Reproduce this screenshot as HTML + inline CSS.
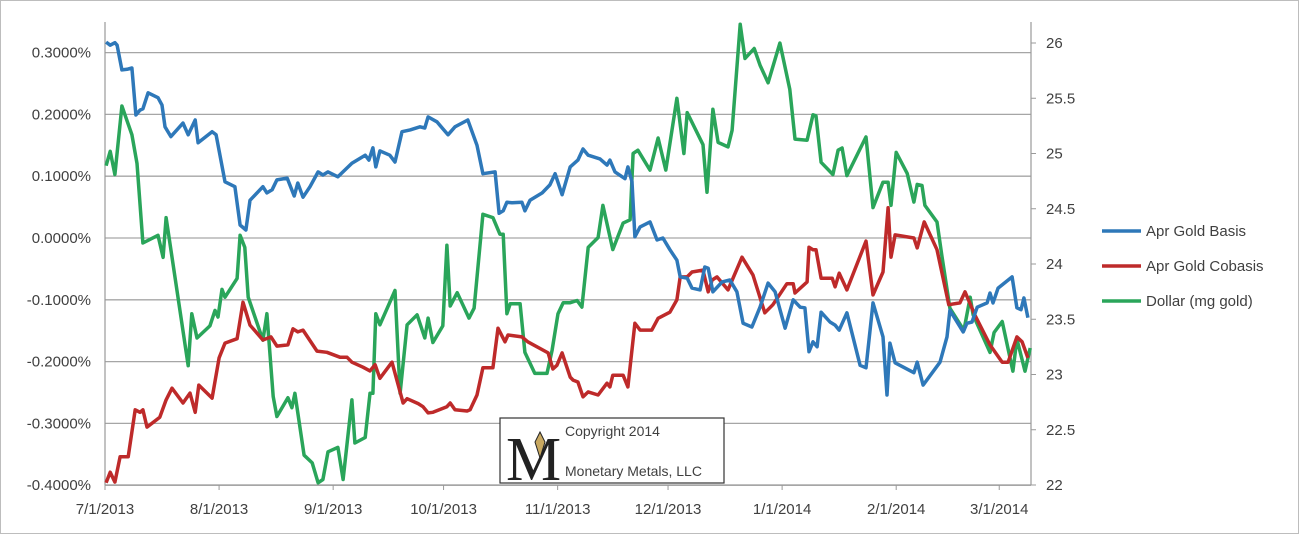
<!DOCTYPE html>
<html><head><meta charset="utf-8"><style>
html,body{margin:0;padding:0;background:#fff;}
svg{display:block;font-family:"Liberation Sans",sans-serif;}
</style></head><body>
<svg id="chart" width="1300" height="535" viewBox="0 0 1300 535">
<rect x="0.5" y="0.5" width="1298" height="533" fill="#fff" stroke="#bdbdbd"/>
<g id="grid"></g>
<g id="axes"></g>
<g id="series"></g>
<g>
<rect x="500" y="418" width="224" height="65" fill="#fff" stroke="#333" stroke-width="1.2"/>
<text x="506" y="480" font-family="Liberation Serif,serif" font-size="62" fill="#222">M</text>
<path d="M540 432 l5 10 l-5 16 l-5 -16 z" fill="#c8a860" stroke="#222" stroke-width="1"/>
<text x="565" y="436" font-size="14" fill="#404040">Copyright 2014</text>
<text x="565" y="476" font-size="14" fill="#404040">Monetary Metals, LLC</text>
</g>
<g id="legend"></g>
</svg>
<script>
const basisDays=[0.3,1.4,2.7,3.3,4.6,6.0,7.3,8.4,9.5,10.3,11.7,14.4,15.5,16.3,17.9,21.2,22.6,24.5,25.3,29.1,30.2,32.6,35.3,36.7,38.3,39.4,41.3,42.9,44.0,45.4,46.7,49.5,51.4,52.4,53.8,55.7,57.9,59.2,60.6,63.3,67.1,70.7,71.7,72.8,73.6,74.7,77.4,78.8,80.7,82.9,85.6,86.9,87.8,90.2,93.2,95.1,98.6,101.1,102.7,106.0,107.1,108.2,109.2,110.6,113.3,114.1,115.5,118.8,120.9,122.3,124.2,126.4,128.5,129.9,131.3,134.5,136.4,137.2,138.6,141.3,142.1,143.2,144.0,145.4,148.1,150.0,151.6,153.5,155.4,156.3,158.2,159.5,161.7,163.0,163.9,165.2,167.7,169.8,171.7,173.4,175.8,178.0,180.2,182.1,184.8,187.0,188.9,190.2,191.3,192.4,193.5,194.6,197.0,198.4,199.5,201.6,205.2,206.8,208.7,211.4,212.5,213.3,214.7,219.8,220.7,222.3,226.9,228.8,229.6,233.2,234.2,235.6,237.0,239.7,240.5,241.3,242.7,246.5,247.8,248.9,249.7,250.8];
const basisValues=[.317,.312,.316,.312,.272,.273,.275,.199,.207,.209,.235,.227,.215,.180,.164,.186,.167,.191,.154,.172,.167,.091,.083,.021,.013,.061,.073,.083,.073,.078,.094,.097,.068,.089,.066,.083,.107,.102,.107,.099,.121,.134,.126,.146,.115,.141,.134,.123,.172,.175,.180,.178,.196,.188,.167,.180,.191,.150,.104,.107,.040,.044,.058,.057,.058,.044,.061,.073,.086,.104,.070,.115,.126,.144,.134,.128,.118,.126,.107,.096,.115,.091,.002,.018,.026,-.003,.000,-.019,-.036,-.063,-.065,-.081,-.084,-.047,-.049,-.087,-.071,-.068,-.087,-.138,-.144,-.112,-.073,-.087,-.146,-.100,-.112,-.113,-.184,-.168,-.176,-.120,-.136,-.141,-.149,-.121,-.206,-.210,-.105,-.160,-.254,-.170,-.202,-.218,-.201,-.238,-.201,-.160,-.117,-.152,-.138,-.136,-.112,-.105,-.089,-.105,-.081,-.063,-.113,-.116,-.097,-.129];
const cobasisDays=[0.3,1.4,2.7,4.1,6.3,8.2,9.5,10.3,11.4,14.9,16.6,18.2,21.2,23.1,24.5,25.5,29.1,31.0,32.6,35.9,37.5,39.4,42.9,45.1,46.7,49.7,51.1,52.4,53.8,57.6,60.3,63.9,65.8,67.1,70.1,72.0,73.4,74.7,78.0,81.0,82.1,85.1,86.4,87.8,89.1,92.9,93.8,95.1,98.4,99.2,101.1,102.7,105.4,106.8,108.7,109.5,113.3,114.9,120.4,121.7,122.8,124.2,126.4,127.2,128.5,129.9,131.3,134.0,136.4,137.2,138.0,140.8,142.1,144.0,145.4,148.6,150.3,153.5,155.4,156.3,158.2,159.5,162.5,163.9,165.0,166.3,169.3,173.1,176.1,179.3,181.5,185.3,187.0,187.5,190.8,191.3,192.4,193.2,194.6,197.6,198.4,199.5,201.6,206.8,208.7,211.4,212.8,213.6,214.7,219.8,220.7,222.6,226.1,229.3,232.3,233.7,236.4,240.5,243.8,245.4,247.8,249.2,250.8];
const cobasisValues=[-.396,-.379,-.395,-.354,-.354,-.278,-.282,-.278,-.306,-.290,-.262,-.243,-.267,-.251,-.282,-.238,-.259,-.194,-.170,-.163,-.104,-.141,-.165,-.160,-.175,-.173,-.147,-.152,-.149,-.183,-.185,-.193,-.193,-.201,-.209,-.215,-.205,-.227,-.201,-.267,-.260,-.268,-.273,-.283,-.282,-.273,-.267,-.278,-.280,-.278,-.254,-.210,-.210,-.146,-.168,-.157,-.160,-.168,-.186,-.212,-.206,-.186,-.225,-.230,-.233,-.257,-.249,-.254,-.235,-.241,-.222,-.222,-.241,-.138,-.149,-.149,-.130,-.120,-.100,-.063,-.063,-.055,-.052,-.087,-.068,-.063,-.084,-.031,-.060,-.121,-.108,-.074,-.074,-.089,-.071,-.015,-.019,-.019,-.065,-.065,-.079,-.057,-.084,-.005,-.092,-.055,.049,-.031,.005,.000,-.016,.026,-.019,-.108,-.105,-.087,-.125,-.173,-.201,-.201,-.160,-.168,-.194];
const dollarDays=[0.3,1.4,2.7,4.6,7.3,8.7,10.3,14.4,15.8,16.6,22.6,23.6,25.0,28.5,29.9,30.7,31.8,32.6,35.9,36.7,38.0,38.9,42.9,44.0,45.7,46.7,49.7,50.8,51.6,54.1,56.3,57.9,59.2,60.6,63.3,64.7,67.1,67.9,70.7,72.0,72.8,73.6,74.7,78.8,80.2,82.1,84.8,86.9,87.8,89.1,91.8,92.9,93.8,95.7,98.9,100.3,102.7,105.4,107.3,108.2,109.2,110.1,112.8,114.1,116.8,120.1,121.5,123.1,124.5,126.4,128.3,129.6,131.3,134.0,135.3,138.0,140.8,142.7,143.5,144.8,148.1,150.3,152.4,155.4,157.3,158.2,162.5,163.6,165.2,166.6,169.3,170.4,172.6,173.9,176.4,178.0,180.2,183.4,186.1,187.5,190.8,192.4,193.2,194.6,197.8,199.2,200.3,201.6,206.8,208.7,211.4,212.8,213.6,215.0,218.0,219.8,220.7,222.0,222.8,226.1,227.4,229.6,233.4,235.1,235.9,240.5,241.6,243.8,246.7,247.8,250.0,251.4];
const dollarValues=[24.89,25.02,24.81,25.43,25.17,24.91,24.19,24.26,24.06,24.42,23.08,23.55,23.33,23.44,23.58,23.52,23.77,23.70,23.87,24.26,24.15,23.70,23.31,23.55,22.80,22.62,22.79,22.70,22.83,22.27,22.20,22.02,22.05,22.30,22.34,22.05,22.77,22.38,22.43,22.83,22.83,23.55,23.45,23.76,22.83,23.45,23.54,23.33,23.51,23.29,23.44,24.17,23.62,23.74,23.51,23.60,24.45,24.42,24.27,24.27,23.55,23.64,23.64,23.20,23.01,23.01,23.22,23.55,23.65,23.65,23.67,23.61,24.15,24.24,24.53,24.13,24.37,24.40,25.00,25.03,24.85,25.14,24.85,25.50,25.00,25.37,25.08,24.65,25.40,25.10,25.06,25.21,26.17,25.86,25.95,25.80,25.64,26.00,25.58,25.13,25.12,25.35,25.34,24.92,24.81,25.03,25.05,24.80,25.15,24.51,24.74,24.74,24.53,25.01,24.82,24.56,24.72,24.71,24.53,24.38,24.08,23.60,23.40,23.70,23.54,23.20,23.38,23.48,23.03,23.32,23.03,23.24];
const leftTicks=[0.3,0.2,0.1,0,-0.1,-0.2,-0.3,-0.4];
const leftTickLabels=["0.3000%","0.2000%","0.1000%","0.0000%","-0.1000%","-0.2000%","-0.3000%","-0.4000%"];
const rightTicks=[26,25.5,25,24.5,24,23.5,23,22.5,22];
const rightTickLabels=["26","25.5","25","24.5","24","23.5","23","22.5","22"];
const monthDays=[0,31,62,92,123,153,184,215,243];
const monthLabels=["7/1/2013","8/1/2013","9/1/2013","10/1/2013","11/1/2013","12/1/2013","1/1/2014","2/1/2014","3/1/2014"];
const seriesNames=["Apr Gold Basis","Apr Gold Cobasis","Dollar (mg gold)"];

const NS="http://www.w3.org/2000/svg";
const X0=105,X1=1031,YT=22,YB=485;
function xs(d){return 105+d*3.68;}
function yl(v){return 238-v*618;}
function yr(v){return 485-(v-22)*110.5;}
function mk(tag,attrs,parent){const e=document.createElementNS(NS,tag);for(const k in attrs)e.setAttribute(k,attrs[k]);parent.appendChild(e);return e;}
const grid=document.getElementById('grid'),axes=document.getElementById('axes'),ser=document.getElementById('series'),leg=document.getElementById('legend');
leftTicks.forEach((t,i)=>{
  const y=yl(t);
  const l=mk('line',{x1:X0,x2:X1,y1:y,y2:y,stroke:'#a6a6a6','stroke-width':1.3},grid);
  
  
  const tx=mk('text',{x:91,y:y+5,'text-anchor':'end','font-size':15,fill:'#404040'},axes);
  tx.textContent=leftTickLabels[i];
  
  
});
rightTicks.forEach((t,i)=>{
  const y=yr(t);
  mk('line',{x1:X1,x2:X1+5,y1:y,y2:y,stroke:'#999'},axes);
  const tx=mk('text',{x:1046,y:y+5,'font-size':15,fill:'#404040'},axes);
  tx.textContent=rightTickLabels[i];
  
  
});
mk('line',{x1:X0,x2:X0,y1:YT,y2:YB,stroke:'#999','stroke-width':1.2},axes);
mk('line',{x1:X1,x2:X1,y1:YT,y2:YB,stroke:'#999','stroke-width':1.2},axes);
mk('line',{x1:X0,x2:X1,y1:YB,y2:YB,stroke:'#999','stroke-width':1.2},axes);
monthDays.forEach((d,i)=>{
  const x=xs(d);
  mk('line',{x1:x,x2:x,y1:YB,y2:YB+5,stroke:'#999'},axes);
  const tx=mk('text',{x:x,y:514,'text-anchor':'middle','font-size':15,fill:'#404040'},axes);
  tx.textContent=monthLabels[i];
  
  
});
function line(days,vals,fy,color,name){
  const pts=days.map((d,i)=>xs(d).toFixed(1)+','+fy(vals[i]).toFixed(1)).join(' ');
  const p=mk('polyline',{points:pts,fill:'none',stroke:color,'stroke-width':3.5,'stroke-linejoin':'round'},ser);
  
  
}
line(dollarDays,dollarValues,yr,'#2aa55a','dollar-line');
line(cobasisDays,cobasisValues,yl,'#be2a2a','cobasis-line');
line(basisDays,basisValues,yl,'#2e78b9','basis-line');
const legColors=['#2e78b9','#be2a2a','#2aa55a'];
seriesNames.forEach((n,i)=>{
  const y=231+i*35;
  const g=mk('g',{},leg);
  
  
  mk('line',{x1:1102,x2:1141,y1:y,y2:y,stroke:legColors[i],'stroke-width':3.5},g);
  const t=mk('text',{x:1146,y:y+5,'font-size':15,fill:'#404040'},g);
  t.textContent=n;
});
</script>
</body></html>
